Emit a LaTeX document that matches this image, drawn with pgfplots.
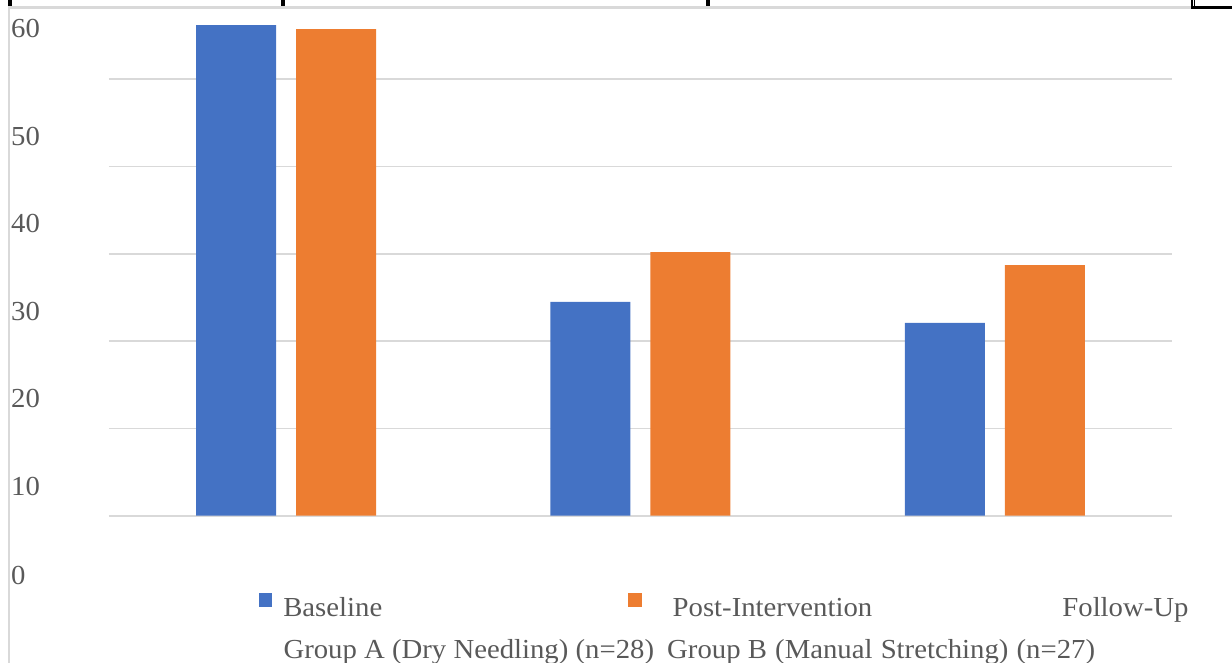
\documentclass[border=0pt]{standalone}
\usepackage{fontspec}
\setmainfont[FakeStretch=1.045]{Liberation Serif}
\usepackage{pgfplots}
\usepackage{pgfplotstable}
\pgfplotsset{compat=1.18}

\definecolor{barblue}{HTML}{4472C4}
\definecolor{barorange}{HTML}{ED7D31}
\definecolor{gridgray}{HTML}{D9D9D9}
\definecolor{labelgray}{HTML}{595959}
\newcommand{\chartfont}{\fontsize{27.5pt}{33pt}\selectfont}

% mean scores per group
\pgfplotstableread{
grp base post
0   56.2 55.75
1   24.5 30.2
2   22.1 28.7
}\scores

\begin{document}
\begin{tikzpicture}[x=1pt,y=1pt]
\path[use as bounding box] (0,0) rectangle (1232,663);
% surrounding frame lines
\fill[gridgray] (8.2,0) rectangle (10.2,657.3);
\fill[gridgray] (8.2,654.3) rectangle (1191,657.3);
\fill[black] (8.3,657.3) rectangle (12.3,663);
\fill[black] (281,657.3) rectangle (285,663);
\fill[black] (706,657.3) rectangle (710,663);
\fill[black] (1191.3,654.3) rectangle (1192.7,663);
\fill[black] (1193.7,654.3) rectangle (1195.3,663);
\fill[black] (1191.3,654.3) rectangle (1232,656.7);

\begin{axis}[
  at={(109pt,0pt)}, anchor=south west,
  scale only axis, width=1063pt, height=663pt,
  xmin=-0.5, xmax=2.5, ymin=-16.877, ymax=59.086,
  axis line style={draw=none},
  major tick length=0pt,
  xtick=\empty,
  ytick={-7.83,2.26,12.34,22.34,32.42,42.47,54.79},
  yticklabels={0,10,20,30,40,50,60},
  /pgf/number format/assume math mode=true,
  yticklabel style={anchor=base west, inner sep=0pt, xshift=-98pt,
    text=labelgray, font=\chartfont},
  extra y ticks={0,10,20,30,40,50},
  extra y tick labels={},
  extra y tick style={grid=major},
  major grid style={draw=gridgray, line width=1.8pt},
  ybar, bar width=80pt,
  xlabel={Group A (Dry Needling) (n=28)\hspace{6pt} Group B\hspace{1pt} (Manual\hspace{1pt} Stretching)\hspace{1pt} (n=27)},
  xlabel style={at={(axis description cs:0.164,0.0065)}, anchor=base west,
    inner sep=0pt, text=labelgray, font=\chartfont},
  legend columns=3,
  legend style={at={(axis description cs:0.1414,0.1051)}, anchor=north west,
    draw=none, fill=none, inner sep=0pt, outer sep=0pt,
    /tikz/column sep=0pt,
    /tikz/every even column/.style={column sep=0pt},
    /tikz/every odd column/.style={column sep=0pt},
    nodes={inner sep=0pt, outer sep=0pt, anchor=base west, text=labelgray, font=\chartfont}},
]
\addplot[fill=barblue, draw=none, bar shift=-50pt,
  legend image code/.code={\fill[barblue] (0pt,10pt) rectangle (13pt,23.4pt); \path (24pt,0pt);}]
  table[x=grp, y=base] {\scores};
\addlegendentry{\makebox[344.7pt][l]{Baseline}}
\addplot[fill=barorange, draw=none, bar shift=50pt,
  legend image code/.code={\fill[barorange] (0pt,10pt) rectangle (13.7pt,23.4pt); \path (44.7pt,0pt);}]
  table[x=grp, y=post] {\scores};
\addlegendentry{\makebox[389.3pt][l]{Post-Intervention}}
\addlegendimage{legend image code/.code={\path (0pt,0pt);}}
\addlegendentry{Follow-Up}
\end{axis}
\end{tikzpicture}
\end{document}
